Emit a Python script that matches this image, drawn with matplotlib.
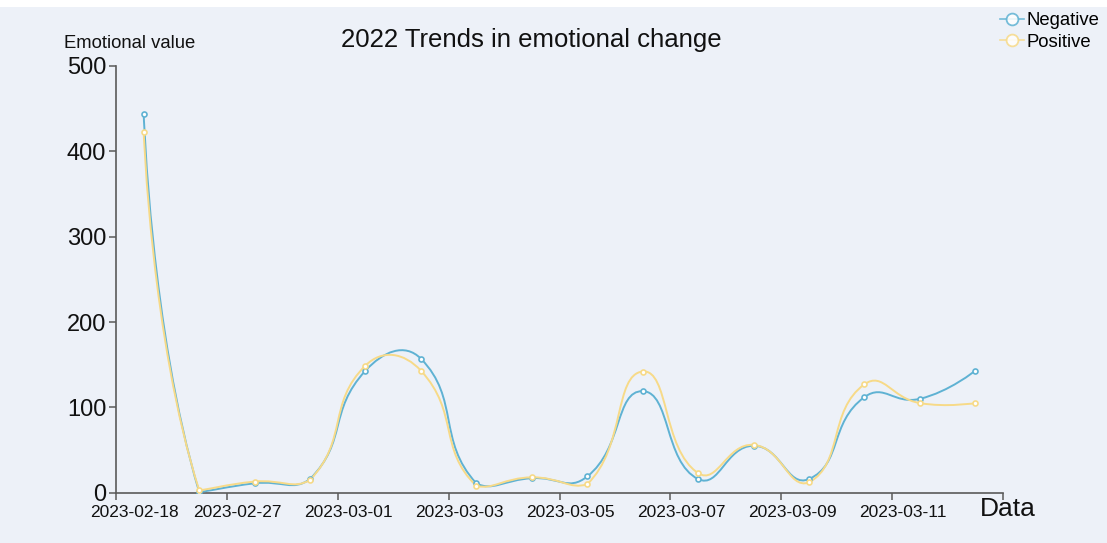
import matplotlib
matplotlib.use("Agg")
import matplotlib.pyplot as plt
import numpy as np
from matplotlib.path import Path
from matplotlib.patches import PathPatch, Rectangle
from matplotlib.lines import Line2D
import matplotlib.transforms as mtransforms

plt.rcParams['font.family'] = ['Liberation Sans', 'DejaVu Sans']

dates = ['2023-02-18', '2023-02-26', '2023-02-27', '2023-02-28', '2023-03-01', '2023-03-02',
         '2023-03-03', '2023-03-04', '2023-03-05', '2023-03-06', '2023-03-07', '2023-03-08',
         '2023-03-09', '2023-03-10', '2023-03-11', '2023-03-12']
negative = [444, 1, 11, 16, 143, 157, 11, 17, 19, 119, 16, 55, 16, 112, 110, 143]
positive = [423, 3, 13, 15, 149, 143, 8, 18, 10, 142, 23, 56, 12, 127, 105, 105]

BG = '#edf1f8'
BLUE = '#5fb2d3'
YELLOW = '#f7da88'
AXIS = '#5a5a5a'


def smooth_path(ax, xs, ys, smooth=0.5):
    # cubic bezier through the points, control points built in pixel space
    # and kept inside the bounding box of the series
    pts = ax.transData.transform(np.column_stack([xs, ys]).astype(float))
    lo, hi = pts.min(axis=0), pts.max(axis=0)
    n = len(pts)
    verts = [pts[0]]
    codes = [Path.MOVETO]
    cp0 = pts[0].copy()
    for i in range(1, n):
        p = pts[i]
        prev = pts[i - 1]
        ratio = 0.5
        v = np.zeros(2)
        if i == n - 1:
            cp1 = p.copy()
        else:
            nxt = pts[i + 1]
            v = nxt - prev
            d0 = np.hypot(*(p - prev))
            d1 = np.hypot(*(nxt - p))
            ratio = d1 / (d0 + d1)
            cp1 = p - v * smooth * (1 - ratio)
        cp0 = np.clip(cp0, lo, hi)
        cp1 = np.clip(cp1, lo, hi)
        verts += [cp0, cp1, p]
        codes += [Path.CURVE4] * 3
        cp0 = p + v * smooth * ratio
    verts = ax.transData.inverted().transform(np.array(verts))
    return Path(verts, codes)


W, H = 1107, 543
fig = plt.figure(figsize=(W / 100, H / 100), dpi=100, facecolor=BG)
fig.patches.append(Rectangle((0, 1 - 7 / H), 1, 7 / H, transform=fig.transFigure,
                             facecolor='white', edgecolor='none', zorder=0))

ax = fig.add_axes([116 / W, (H - 492.7) / H, (1003 - 116) / W, (492.7 - 66) / H])
ax.set_facecolor(BG)
x = np.arange(len(dates))
ax.set_xlim(-0.5, len(dates) - 0.5)
ax.set_ylim(0, 500)

for spine in ['top', 'right']:
    ax.spines[spine].set_visible(False)
for spine in ['left', 'bottom']:
    ax.spines[spine].set_color(AXIS)
    ax.spines[spine].set_linewidth(1.2)

ax.set_yticks(range(0, 501, 100))
ax.tick_params(axis='y', direction='out', length=5, width=1.1, color=AXIS,
               labelsize=17, pad=2, labelcolor='#111111')

# boundary ticks every two categories, labels on the even categories
ax.set_xticks(np.arange(-0.5, len(dates), 2))
ax.set_xticklabels([])
ax.tick_params(axis='x', which='major', direction='out', length=5, width=1.1, color=AXIS)
ax.set_xticks(x[::2], minor=True)
ax.set_xticklabels(dates[::2], minor=True)
ax.tick_params(axis='x', which='minor', length=0, labelsize=12.5, pad=9, labelcolor='#111111')
for k, lbl in enumerate(ax.get_xticklabels(minor=True)):
    dx = -9 if k == 0 else -17
    lbl.set_transform(lbl.get_transform()
                      + mtransforms.ScaledTranslation(dx / 100, 0, fig.dpi_scale_trans))

for vals, col, z in [(negative, BLUE, 3), (positive, YELLOW, 4)]:
    ax.add_patch(PathPatch(smooth_path(ax, x, vals), facecolor='none', edgecolor=col,
                           lw=1.4, zorder=z))
    ax.plot(x, vals, linestyle='none', marker='o', markersize=3.6, markerfacecolor='white',
            markeredgecolor=col, markeredgewidth=1.2, zorder=z + 2)

fig.text(531 / W, 1 - 40 / H, '2022 Trends in emotional change', ha='center', va='center',
         fontsize=18.5, color='#111111')
fig.text(64 / W, 1 - 44 / H, 'Emotional value', ha='left', va='center', fontsize=13.3,
         color='#111111')
fig.text(980 / W, 1 - 509 / H, 'Data', ha='left', va='center', fontsize=19, color='#111111')

handles = [Line2D([], [], color=BLUE, lw=1.2, marker='o', markersize=8.5,
                  markerfacecolor='white', markeredgewidth=1.3, alpha=0.85),
           Line2D([], [], color=YELLOW, lw=1.2, marker='o', markersize=8.5,
                  markerfacecolor='white', markeredgewidth=1.3, alpha=0.85)]
fig.legend(handles, ['Negative', 'Positive'], loc='upper left',
           bbox_to_anchor=(1000 / W, 1 - 12 / H), frameon=False, fontsize=13.3,
           handlelength=1.3, handletextpad=0.15, labelspacing=0.25, borderpad=0,
           borderaxespad=0)

fig.savefig('out.png', dpi=100, facecolor=BG)
